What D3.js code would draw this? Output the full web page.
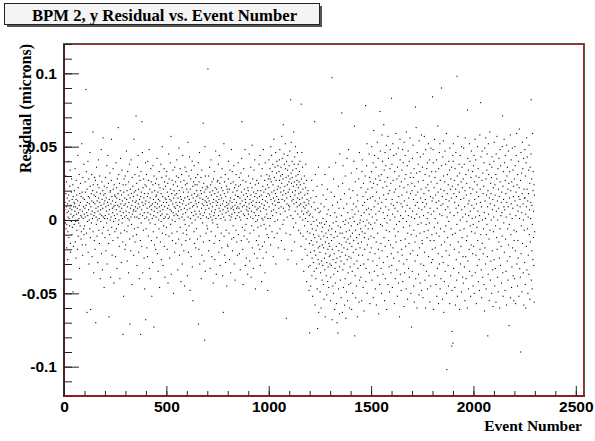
<!DOCTYPE html>
<html><head><meta charset="utf-8">
<script src="https://cdn.jsdelivr.net/npm/d3@7/dist/d3.min.js"></script>
<style>body{margin:0;background:#fff;}svg{display:block;}</style>
</head><body>
<svg id="chart" width="595" height="441"></svg>
<script>
const chartTitle = "BPM 2, y Residual vs. Event Number";
const xAxisTitle = "Event Number";
const yAxisTitle = "Residual (microns)";
const xMajorTicks = [0, 500, 1000, 1500, 2000, 2500];
const xTickLabels = ["0", "500", "1000", "1500", "2000", "2500"];
const yMajorTicks = [-0.1, -0.05, 0, 0.05, 0.1];
const yTickLabels = ["-0.1", "-0.05", "0", "0.05", "0.1"];
const xDomain = [0, 2540];
const yDomain = [-0.12, 0.12];
// residual per event, in units of 0.001 (event number = index)
const residualThousandths = [
3,-9,-14,21,7,12,0,-2,30,18,-6,9,26,-19,-3,5,15,11,-27,-8,2,40,6,17,-12,1,13,-4,23,8,34,-16,-22,10,4,-1,19,28,7,-10,14,-5,2,24,-49,16,-18,9,3,12,
-3,20,11,6,35,-15,9,-1,-26,14,27,4,17,-7,0,8,-20,13,44,22,-11,5,-2,1,31,10,-33,18,7,-4,12,25,3,-13,16,-8,2,52,19,-17,6,-24,29,15,1,9,-6,38,-10,4,
14,-4,8,26,2,19,-17,89,10,33,-9,5,-63,21,12,-1,3,40,-22,16,7,28,-30,0,11,15,-6,46,23,-12,-61,9,4,18,-2,31,13,-25,6,1,20,60,-8,24,12,-36,3,17,-14,29,
5,11,-20,27,16,-70,8,2,-3,36,19,-11,13,0,24,-29,6,9,41,15,-7,22,1,-16,30,12,4,-40,18,7,-1,10,48,-23,3,26,14,-9,-34,20,8,56,2,-5,17,11,-46,23,1,13,
-12,18,3,29,9,-21,15,6,-2,37,22,-30,1,12,44,-7,10,25,-16,4,-66,14,7,-10,32,19,0,20,-39,11,2,27,55,-5,16,-24,8,13,5,-14,35,21,-1,9,-43,24,3,17,-8,10,
16,1,-25,12,39,7,-6,22,15,-33,4,28,10,-12,18,63,-3,31,0,9,-18,25,14,-40,6,20,42,-9,11,3,-29,17,8,34,-2,13,1,-15,-78,24,5,-52,19,10,28,-7,2,15,-20,30,
11,-17,24,6,3,47,14,-8,20,-28,9,33,1,-4,17,-36,26,12,5,0,38,-13,-71,15,21,8,-21,2,41,18,-3,10,-44,29,4,13,23,-11,6,16,-24,7,55,19,-6,2,31,-15,12,9,
20,6,71,13,-10,25,2,-31,17,36,8,-5,44,11,21,-22,1,30,-40,14,9,27,4,-14,-78,16,33,-2,19,7,-18,67,12,46,3,-36,22,10,-7,28,15,-26,5,18,-47,1,24,11,39,-68,
13,-6,23,31,2,-19,8,16,-25,40,5,18,-11,27,0,12,48,-33,9,21,-2,15,-40,4,35,10,26,-14,7,-52,19,1,11,-29,24,37,-8,14,3,-73,30,6,-17,20,9,-3,12,25,-20,16,
2,17,28,-12,8,42,-23,11,5,19,-35,14,0,24,-6,33,9,-46,13,22,6,-15,3,38,18,-1,-27,10,29,4,50,-9,16,7,-31,21,12,-4,1,35,-18,26,9,-39,15,2,23,-10,14,30,
-5,12,33,4,-20,19,8,25,-43,1,16,45,10,-11,28,2,-26,14,7,39,21,-3,57,13,-37,6,18,-9,27,0,-14,11,34,5,24,-50,15,3,20,9,-22,36,17,-1,8,26,-16,12,4,30,
18,41,-8,10,23,3,-34,15,29,6,-13,49,1,20,-24,12,9,35,-5,16,26,-42,7,14,31,-17,2,22,-30,11,44,4,-9,19,13,-21,27,0,8,-45,15,36,-3,24,5,-14,10,33,-7,21,
-10,25,7,-38,16,53,2,19,-22,11,30,-4,14,43,-13,8,-48,21,1,28,12,-25,34,5,17,-2,40,-32,9,23,-55,15,3,26,10,-8,37,18,-16,6,24,0,13,29,-19,4,11,-6,20,16,
24,9,-13,31,17,2,39,-71,12,-20,26,6,46,-30,15,4,-11,20,1,29,-40,18,8,34,-24,11,22,-2,14,3,66,-15,25,10,-28,19,5,-82,50,13,-35,30,7,21,-9,16,2,12,-4,23,
10,-6,22,103,15,1,-21,30,8,13,-14,36,4,19,-33,11,24,2,41,-8,17,6,-25,26,0,9,20,-2,12,-43,28,14,3,-16,33,5,18,-27,22,7,-11,47,1,13,-37,21,10,16,-3,26,
12,27,-5,19,38,3,-22,14,8,44,-14,25,6,-31,10,17,1,29,-9,22,15,-19,35,4,11,-38,20,7,-63,13,2,52,-11,18,26,-24,9,0,31,-29,16,5,-7,23,12,-45,10,21,-17,8,
19,-18,6,28,40,11,-9,3,21,-27,13,34,0,15,-36,25,8,2,48,-13,4,12,33,-21,9,19,-4,26,7,-12,37,14,-30,22,5,10,-41,17,1,24,-7,31,12,8,-15,20,3,-24,16,9,
16,39,-10,23,5,8,29,-23,2,15,11,-34,24,0,32,6,-14,19,42,67,13,-5,9,-20,27,-44,4,17,35,-11,10,21,3,-7,48,14,-31,12,26,-3,18,-26,7,9,-13,1,16,-37,22,6,
20,4,30,-15,11,45,8,-28,14,-9,25,2,36,17,-39,12,6,-4,22,51,-19,10,28,1,13,-33,19,-7,34,5,-23,16,41,9,24,-47,3,-1,18,12,-14,27,7,-26,15,0,20,-5,8,-17,
25,3,-11,38,12,16,-20,9,44,-31,6,20,-4,30,17,-42,11,1,35,-18,14,23,0,-26,48,8,19,-3,10,-15,27,2,-36,39,13,21,-6,7,-22,16,4,31,-10,12,24,-48,1,18,28,-12,
22,41,9,30,17,-4,35,28,1,-17,50,14,26,6,44,19,-8,33,11,3,38,24,-25,15,7,55,20,-12,29,13,-1,36,10,18,46,-30,27,5,32,16,40,-9,21,0,12,37,23,-19,14,8,
33,12,41,27,48,-6,22,4,30,19,36,9,-14,25,57,14,42,31,17,-3,28,65,8,20,0,45,38,13,-20,23,6,52,35,18,-9,29,-67,40,15,11,2,24,34,44,-27,19,30,10,26,7,
37,21,9,47,28,-10,16,82,3,32,53,25,-21,13,40,29,19,34,1,14,23,-5,60,11,38,26,-15,43,17,6,20,50,-2,30,35,12,24,-30,27,9,46,15,4,31,38,22,-7,18,26,10,
33,14,40,2,24,-9,11,19,-18,79,28,6,46,-27,15,36,0,21,-11,9,4,-35,25,12,30,-4,17,8,-20,1,22,38,-13,10,27,-42,5,14,-24,-8,18,-1,20,6,-32,11,13,-48,3,-16,
-77,-9,-31,4,-22,-45,15,-3,-14,9,27,-38,-26,-6,-52,2,-17,20,-29,-10,-1,12,-35,-21,67,-12,-58,7,31,-24,-40,-7,16,-33,0,-15,23,-47,-4,-74,8,-27,-19,36,-63,-11,5,-30,-2,-18,
-22,-49,6,-36,-13,11,-60,-2,-28,-8,24,-41,-17,-5,-31,1,17,-44,-19,-11,-54,9,-26,-3,-34,31,-66,-15,-23,-9,14,-38,-1,-51,-29,4,-12,21,-42,-20,-32,7,-7,-46,-16,36,-25,-4,-18,-30,
-24,3,-55,-39,-10,19,-31,-14,-6,97,-68,-20,10,-45,-27,-2,-50,28,-37,-12,-23,16,-61,5,-33,-43,-8,39,-29,-1,-18,-57,2,-26,-70,-11,12,-35,-77,-4,23,-47,-21,8,-16,-64,-32,45,-9,-25,
-41,-5,14,-28,-53,3,-17,73,-22,-9,-63,25,-34,37,-1,-46,8,-19,-30,-12,18,-58,-3,-40,30,-24,0,-67,-15,-8,-49,11,42,-27,-20,-55,5,-13,-36,-2,48,-44,-25,21,-7,-60,-16,1,-32,-11,
15,-43,-26,32,-4,-61,-18,7,-35,-9,-50,20,2,-22,11,-14,40,-30,-1,64,-79,4,-38,26,-7,-53,-20,9,-45,-12,35,-28,17,-66,-3,13,-33,-16,6,-24,28,-56,-10,46,-41,-2,-19,0,-31,-6,
-39,22,3,-15,-55,33,-8,41,-24,10,16,-46,-1,25,-30,-62,5,-12,12,-20,-9,30,-4,78,-42,19,-33,7,37,0,52,-50,-17,14,21,-27,-6,8,-13,-2,45,4,-36,29,-57,-22,26,15,-3,-11,
7,-19,33,50,-41,22,2,-6,16,-28,39,-53,25,61,-12,9,-35,44,-2,-23,13,-47,28,4,36,-15,-58,19,0,-31,24,53,-9,-38,11,42,-20,-64,30,6,-26,15,-44,74,27,47,-3,8,-16,-33,
31,-50,12,58,-21,-4,40,22,-37,5,-29,17,65,-12,34,1,-55,26,46,-18,-40,9,37,14,-7,51,-61,23,-2,-25,3,29,-44,57,18,42,-14,7,-32,-8,-49,20,35,0,48,-17,25,-36,11,-23,
83,-31,38,14,-46,4,52,-19,27,10,-26,44,-6,19,-57,33,2,8,-40,-11,21,59,-15,45,-3,-34,28,12,-52,36,6,-22,-8,49,-43,16,30,-28,-1,-66,23,55,41,-37,3,-14,11,-48,26,-20,
34,17,-24,9,48,-42,1,39,-5,-30,22,-59,53,13,-36,28,44,-13,6,-18,31,-47,60,-1,19,-27,10,37,-54,-9,24,47,3,-33,15,-16,40,-39,-4,8,56,29,-23,18,-50,32,-10,2,-73,25,
20,-35,42,6,-21,51,29,14,-45,-7,35,-56,1,23,-15,-28,10,77,-40,17,63,-11,32,4,-60,46,12,-24,19,-3,38,26,-37,8,-51,54,-19,2,33,-9,-43,43,15,-30,21,-2,58,-48,7,-14,
-16,36,12,-53,27,45,3,-31,18,-8,57,-22,9,-41,31,14,-60,48,22,-3,-35,11,35,-12,1,39,-47,24,5,-7,52,-25,20,-38,30,-2,41,-56,8,-14,16,-45,49,26,4,-29,33,-10,13,-20,
84,-27,15,48,39,-61,6,-14,22,-5,55,-38,29,1,-19,17,33,-44,12,-9,41,-52,25,8,-33,-2,64,19,-23,-57,35,13,-11,46,-30,4,52,-47,27,-6,21,-40,10,-17,90,37,3,-25,16,-54,
43,11,-29,54,30,-63,20,-8,-42,-15,26,47,-35,7,38,-4,14,-21,59,-50,-102,2,18,31,-12,9,-31,24,-45,-1,40,13,-24,34,-57,49,5,-17,21,-38,28,-6,15,36,-86,-48,-76,23,-10,44,
-84,40,52,-33,18,3,-20,27,12,-46,35,-9,-58,21,46,8,-27,16,-41,-3,98,30,-52,5,57,24,-15,10,-36,-22,38,19,-61,32,-7,44,0,-30,14,-18,26,-49,50,7,36,-12,22,-39,2,-25,
28,-43,49,15,-6,38,-32,9,-55,20,56,4,-25,31,-40,17,-14,25,-1,-11,-60,75,42,-28,11,34,-47,3,13,-20,52,-35,22,40,-4,6,-52,18,29,-17,47,-8,10,-38,1,33,-23,21,-45,-3,
37,-18,8,44,-50,26,14,-9,55,-36,2,41,-24,30,-57,11,19,-5,24,-31,50,-14,6,35,-42,16,-1,29,-27,-48,3,58,-20,21,12,80,-10,43,-34,9,-53,27,47,-16,0,-39,32,18,-23,-6,
23,-44,39,5,-62,49,-19,13,1,-30,56,28,-47,-10,17,34,-3,45,-25,9,-79,20,-37,52,4,31,-13,-55,15,38,60,-7,11,-41,25,-28,18,0,29,-50,36,43,-21,7,-34,14,-59,22,-8,2,
40,-27,53,10,-45,24,17,-33,-4,31,-56,45,6,-12,28,57,-20,13,-39,0,35,-49,21,8,-15,42,16,-26,-60,-6,48,26,-31,37,3,-18,12,-43,19,5,-11,50,71,-36,23,-52,33,14,-2,9,
55,-22,39,7,-48,27,44,-13,18,-35,2,-58,51,12,30,-28,36,-6,21,-41,9,47,-17,25,-72,-3,15,33,-25,4,58,-53,20,-10,41,11,-46,26,-32,1,49,-19,8,34,-38,16,23,-55,-7,-14,
28,-40,50,13,37,-21,-57,3,19,44,-8,59,-30,24,10,-45,31,-14,6,-26,40,16,-52,22,62,1,-33,14,9,-39,27,-90,46,-23,-4,32,5,-49,18,53,-16,35,11,-36,0,42,-58,21,-7,15,
-29,48,15,-44,30,4,-60,39,-18,9,56,-34,21,43,-6,13,-50,2,-24,18,34,-37,51,-10,7,25,-54,36,-15,1,12,45,82,-41,28,-21,10,-47,-3,59,-27,20,33,-12,6,-31,24,-56,17,-8
];

const margin = {left: 64, top: 44, right: 584, bottom: 396};
const svg = d3.select("#chart");
const x = d3.scaleLinear().domain(xDomain).range([margin.left, margin.right]);
const y = d3.scaleLinear().domain(yDomain).range([margin.bottom, margin.top]);

// title box
const tb = svg.append("g");
tb.append("rect").attr("x", 7).attr("y", 6).attr("width", 315).attr("height", 21).attr("fill", "#555");
tb.append("rect").attr("x", 4.5).attr("y", 3.5).attr("width", 315).attr("height", 21)
  .attr("fill", "#f4f4f4").attr("stroke", "#222").attr("stroke-width", 1);
tb.append("text").attr("x", 164.5).attr("y", 20.5).attr("text-anchor", "middle")
  .attr("font-family", "'Liberation Serif','Times New Roman',serif").attr("font-weight", "bold")
  .attr("font-size", 16.7).attr("fill", "#000").text(chartTitle);

// points (1-pixel dot markers)
svg.append("g").selectAll("rect").data(residualThousandths).join("rect")
  .attr("x", (d, i) => x(i) - 0.55)
  .attr("y", d => y(d / 1000) - 0.55)
  .attr("width", 1.1).attr("height", 1.1)
  .attr("fill", "#000");

// frame
svg.append("rect").attr("x", margin.left - 0.5).attr("y", margin.top - 0.5)
  .attr("width", margin.right - margin.left + 1).attr("height", margin.bottom - margin.top + 1)
  .attr("fill", "none").attr("stroke", "#555").attr("stroke-width", 1);
svg.append("rect").attr("x", margin.left + 0.5).attr("y", margin.top + 0.5)
  .attr("width", margin.right - margin.left - 1).attr("height", margin.bottom - margin.top - 1)
  .attr("fill", "none").attr("stroke", "#b22222").attr("stroke-width", 1);

const tickFont = "'Liberation Sans',Arial,Helvetica,sans-serif";
const tickFontSize = 15.5;

// y axis
const yMinor = d3.range(-12, 13, 1).map(v => v / 100);
svg.append("g").attr("transform", `translate(${margin.left},0)`)
  .call(d3.axisLeft(y).tickValues(yMinor).tickSize(-8).tickFormat(""))
  .call(g => g.select(".domain").remove())
  .call(g => g.selectAll("line").attr("stroke", "#222"));
svg.append("g").attr("transform", `translate(${margin.left},0)`)
  .call(d3.axisLeft(y).tickValues(yMajorTicks).tickSize(-15).tickPadding(7)
    .tickFormat((d, i) => yTickLabels[i]))
  .call(g => g.select(".domain").remove())
  .call(g => g.selectAll("line").attr("stroke", "#222"))
  .call(g => g.selectAll("text").attr("font-family", tickFont).attr("font-weight", "bold")
    .attr("font-size", tickFontSize).attr("fill", "#000"));

// x axis
const xMinor = d3.range(0, 2501, 100);
svg.append("g").attr("transform", `translate(0,${margin.bottom})`)
  .call(d3.axisBottom(x).tickValues(xMinor).tickSize(-5).tickFormat(""))
  .call(g => g.select(".domain").remove())
  .call(g => g.selectAll("line").attr("stroke", "#222"));
svg.append("g").attr("transform", `translate(0,${margin.bottom})`)
  .call(d3.axisBottom(x).tickValues(xMajorTicks).tickSize(-10).tickPadding(5)
    .tickFormat((d, i) => xTickLabels[i]))
  .call(g => g.select(".domain").remove())
  .call(g => g.selectAll("line").attr("stroke", "#222"))
  .call(g => g.selectAll("text").attr("font-family", tickFont).attr("font-weight", "bold")
    .attr("font-size", tickFontSize).attr("fill", "#000"));

// axis lines (left & bottom darker)
svg.append("line").attr("x1", margin.left).attr("x2", margin.left).attr("y1", margin.top).attr("y2", margin.bottom + 1)
  .attr("stroke", "#3a1a1a").attr("stroke-width", 1.5);
svg.append("line").attr("x1", margin.left).attr("x2", margin.right + 1).attr("y1", margin.bottom).attr("y2", margin.bottom)
  .attr("stroke", "#8b1a1a").attr("stroke-width", 1.5);

// axis titles
const titleFont = "'Liberation Serif','Times New Roman',serif";
svg.append("text").attr("x", 582).attr("y", 431).attr("text-anchor", "end")
  .attr("font-family", titleFont).attr("font-weight", "bold").attr("font-size", 15.5)
  .attr("fill", "#000").text(xAxisTitle);
svg.append("text").attr("transform", "translate(31,44) rotate(-90)").attr("text-anchor", "end")
  .attr("font-family", titleFont).attr("font-weight", "bold").attr("font-size", 16)
  .attr("fill", "#000").text(yAxisTitle);
</script>
</body></html>
